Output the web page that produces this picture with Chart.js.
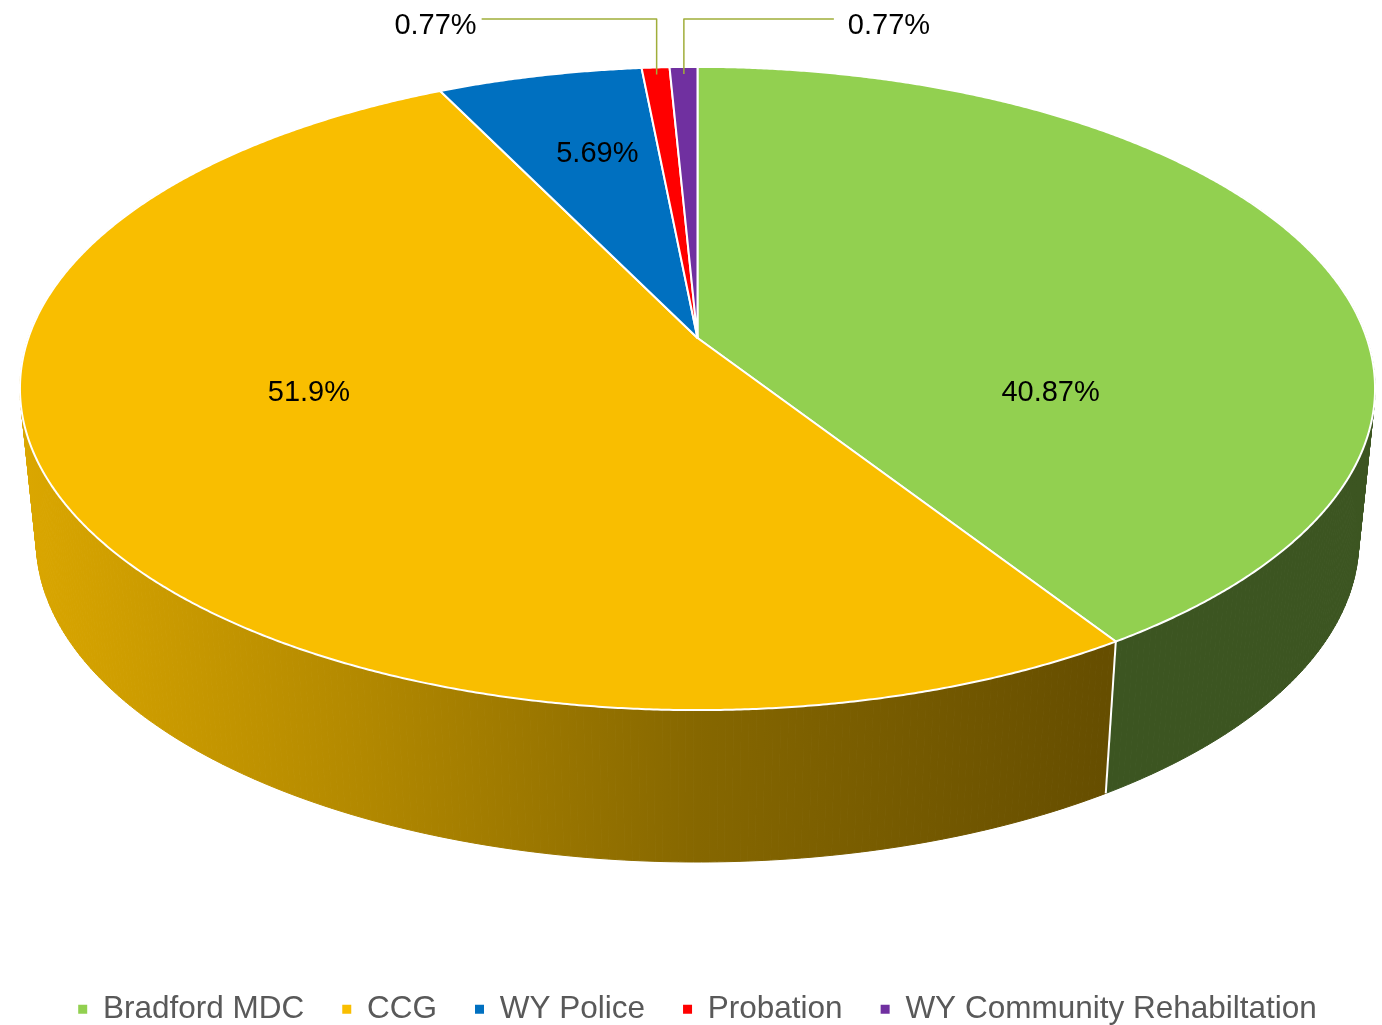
<!DOCTYPE html>
<html>
<head>
<meta charset="utf-8">
<title>Funding split</title>
<script src="https://cdn.jsdelivr.net/npm/chart.js@4.4.1/dist/chart.umd.min.js"></script>
<style>
  html, body { margin: 0; padding: 0; background: #ffffff; }
  canvas { display: block; }
</style>
</head>
<body>
<canvas id="fundingChart" width="1382" height="1025"></canvas>
<script>
// Dati del grafico
const partners = ['Bradford MDC', 'CCG', 'WY Police', 'Probation', 'WY Community Rehabiltation'];
const shares = [40.87, 51.9, 5.69, 0.77, 0.77];
const sliceColors = ['#92D050', '#F9BE00', '#0070C0', '#FF0000', '#7030A0'];

// Etichette: spostamento in px per quelle interne, lato del richiamo per le fette sottili
const labelNudge = [[-22, 104], [-22, -45], [0, -20], [0, 0], [0, 0]];
const calloutSide = [0, 0, 0, -1, 1];

const FONT = '"Liberation Sans", Arial, sans-serif';

// Vista 3D in prospettiva (rapporti rispetto al raggio orizzontale)
const view = { e: -0.157, spanX: 1.0125, centerY: 0.405, squash: 0.4688, depth: 0.227, taper: 0.024 };
const wallShade = [[0, 0.88], [0.25, 0.72], [0.5, 0.54], [0.8, 0.41], [1, 0.41]];

function shade(hex, f) {
    const n = parseInt(hex.slice(1), 16);
    const r = Math.round(((n >> 16) & 255) * f);
    const g = Math.round(((n >> 8) & 255) * f);
    const b = Math.round((n & 255) * f);
    return `rgb(${r},${g},${b})`;
}

function makeProjector(chart) {
    const area = chart.chartArea;
    const first = chart.getDatasetMeta(0).data[0];
    const a = area.width / 2 / view.spanX;
    const cx = first.x;
    const cy = area.top + view.centerY * a;
    return function(angle, r, d) {
        const u = Math.cos(angle) * r;
        const v = Math.sin(angle) * r;
        const w = 1 + view.e * v;
        const k = 1 - view.taper * d;
        return {
            x: cx + a * u / w * k,
            y: cy + view.squash * a * v / w + view.depth * a * d
        };
    };
}

const pie3d = {
    id: 'pie3d',
    beforeDatasetsDraw(chart) {
        const ctx = chart.ctx;
        const area = chart.chartArea;
        const arcs = chart.getDatasetMeta(0).data;
        const P = makeProjector(chart);

        ctx.save();

        // Pareti laterali: strisce sottili, dal fondo verso chi guarda
        const strips = [];
        arcs.forEach((arc, i) => {
            const span = arc.endAngle - arc.startAngle;
            const n = Math.max(2, Math.ceil(span / 0.01));
            for (let k = 0; k < n; k++) {
                const t0 = arc.startAngle + span * k / n;
                const t1 = arc.startAngle + span * (k + 1) / n;
                const s = Math.sin((t0 + t1) / 2);
                if (s > -0.5) strips.push({ i, t0, t1, s });
            }
        });
        strips.sort((p, q) => p.s - q.s);

        const fills = arcs.map(arc => {
            const g = ctx.createLinearGradient(area.left, 0, area.right, 0);
            wallShade.forEach(([pos, f]) => g.addColorStop(pos, shade(arc.options.backgroundColor, f)));
            return g;
        });

        ctx.lineWidth = 1;
        ctx.lineJoin = 'round';
        strips.forEach(st => {
            const a0 = P(st.t0, 1, 0), a1 = P(st.t1, 1, 0);
            const b1 = P(st.t1, 1, 1), b0 = P(st.t0, 1, 1);
            ctx.beginPath();
            ctx.moveTo(a0.x, a0.y);
            ctx.lineTo(a1.x, a1.y);
            ctx.lineTo(b1.x, b1.y);
            ctx.lineTo(b0.x, b0.y);
            ctx.closePath();
            ctx.fillStyle = fills[st.i];
            ctx.strokeStyle = fills[st.i];
            ctx.fill();
            ctx.stroke();
        });

        // Linee bianche tra le pareti visibili
        ctx.strokeStyle = '#ffffff';
        ctx.lineWidth = 2;
        arcs.forEach(arc => {
            if (Math.sin(arc.startAngle) > 0.2) {
                const top = P(arc.startAngle, 1, 0), bottom = P(arc.startAngle, 1, 1);
                ctx.beginPath();
                ctx.moveTo(top.x, top.y);
                ctx.lineTo(bottom.x, bottom.y);
                ctx.stroke();
            }
        });

        // Faccia superiore
        const c = P(0, 0, 0);
        arcs.forEach(arc => {
            const span = arc.endAngle - arc.startAngle;
            const n = Math.max(2, Math.ceil(span / 0.005));
            ctx.beginPath();
            ctx.moveTo(c.x, c.y);
            for (let k = 0; k <= n; k++) {
                const p = P(arc.startAngle + span * k / n, 1, 0);
                ctx.lineTo(p.x, p.y);
            }
            ctx.closePath();
            ctx.fillStyle = arc.options.backgroundColor;
            ctx.fill();
            ctx.strokeStyle = '#ffffff';
            ctx.lineWidth = 2;
            ctx.stroke();
        });

        // Etichette percentuali
        ctx.font = '29px ' + FONT;
        ctx.fillStyle = '#000000';
        ctx.textBaseline = 'alphabetic';
        arcs.forEach((arc, i) => {
            const mid = (arc.startAngle + arc.endAngle) / 2;
            const text = shares[i] + '%';
            const side = calloutSide[i];
            if (!side) {
                const p = P(mid, 0.6, 0);
                ctx.textAlign = 'center';
                ctx.fillText(text, p.x + labelNudge[i][0], p.y + labelNudge[i][1] + 10.5);
                return;
            }
            const p = P(mid, 0.97, 0);
            const yLine = area.top - 48;
            const xEnd = p.x + side * (side < 0 ? 175 : 150);
            ctx.strokeStyle = '#A0AE3A';
            ctx.lineWidth = 1.5;
            ctx.beginPath();
            ctx.moveTo(p.x, p.y);
            ctx.lineTo(p.x, yLine);
            ctx.lineTo(xEnd, yLine);
            ctx.stroke();
            ctx.textAlign = side < 0 ? 'right' : 'left';
            ctx.fillText(text, xEnd + (side < 0 ? -5 : 14), yLine + 15);
        });

        ctx.restore();
        return false;
    }
};

new Chart(document.getElementById('fundingChart'), {
    type: 'pie',
    data: {
        labels: partners,
        datasets: [{
            data: shares,
            backgroundColor: sliceColors,
            borderWidth: 0
        }]
    },
    options: {
        responsive: false,
        animation: false,
        devicePixelRatio: 1,
        layout: { padding: { left: 20, right: 7, top: 67, bottom: -10 } },
        plugins: {
            legend: {
                position: 'bottom',
                labels: {
                    usePointStyle: true,
                    pointStyle: 'rect',
                    boxWidth: 9,
                    boxHeight: 9,
                    padding: 38,
                    color: '#595959',
                    font: { size: 31.5, family: FONT }
                }
            },
            tooltip: { enabled: false }
        }
    },
    plugins: [pie3d]
});
</script>
</body>
</html>
